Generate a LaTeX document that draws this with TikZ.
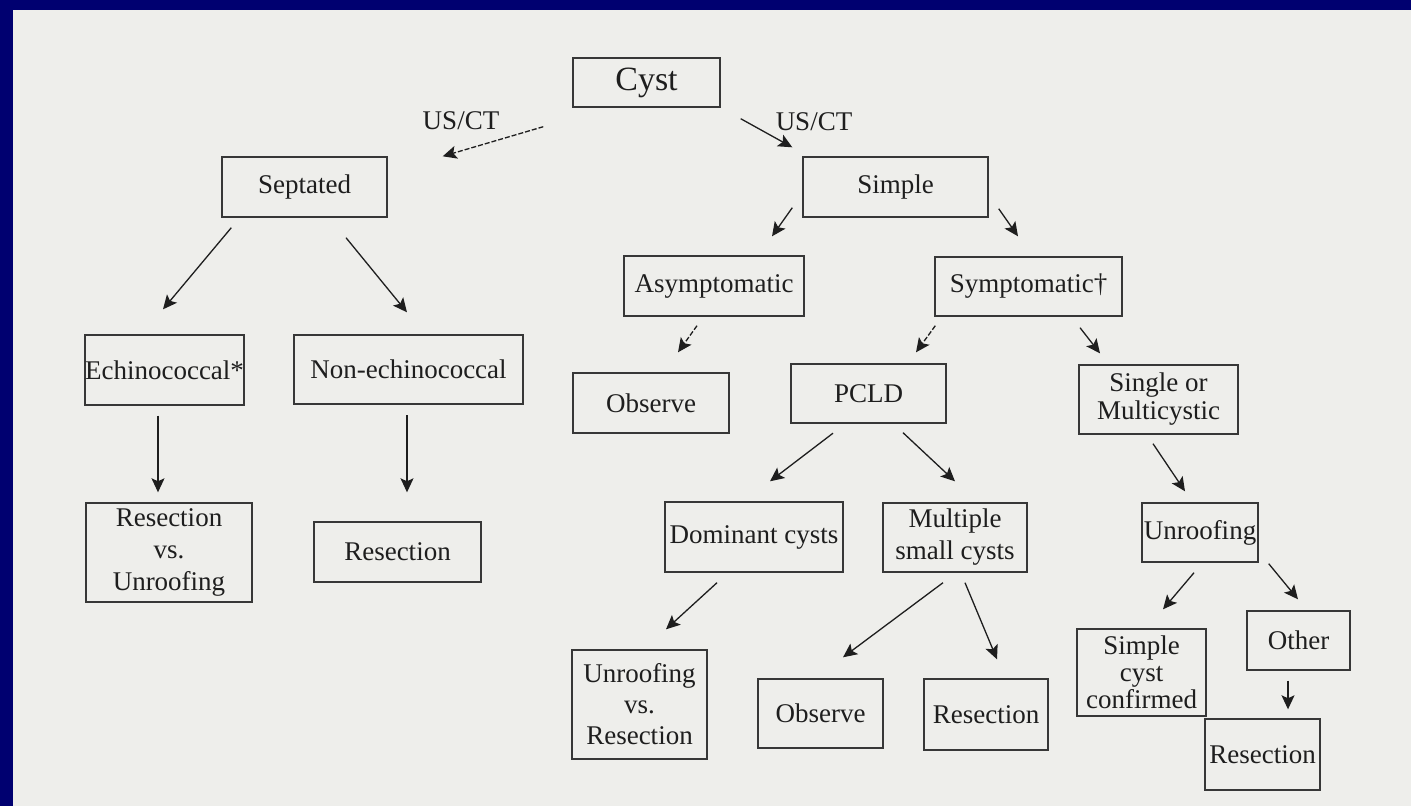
\documentclass[tikz,border=0pt]{standalone}
\usepackage{fontspec}
\setmainfont{Liberation Serif}
\usetikzlibrary{arrows.meta}
\definecolor{slideblue}{RGB}{0,0,112}
\definecolor{paper}{RGB}{238,238,235}
\definecolor{ink}{RGB}{30,30,30}
\definecolor{boxline}{RGB}{55,55,55}

\tikzset{
  box/.style={draw=boxline, line width=1.4pt, inner sep=0pt, align=center, text=ink, font=\fontsize{27}{32}\selectfont},
  arr/.style={draw=ink, line width=1.3pt, -{Stealth[length=14pt,width=13pt,inset=3pt]}},
  dasharr/.style={arr, dash pattern=on 5pt off 2pt},
  lbl/.style={text=ink, font=\fontsize{27}{32}\selectfont}
}

\begin{document}
\begin{tikzpicture}[x=1pt, y=-1pt]
  % slide frame and scanned page
  \fill[slideblue] (0,0) rectangle (1411,806);
  \fill[paper] (13,10) rectangle (1411,806);

  % top
  \node[box, minimum width=147pt, minimum height=49pt, font=\fontsize{34}{38}\selectfont] (cyst) at (646.5,82.5) {Cyst};
  \node[lbl] (ctleft) at (461,121) {US/CT};
  \node[lbl] (ctright) at (814,122) {US/CT};

  % septated branch
  \node[box, minimum width=165pt, minimum height=60pt] (septated) at (304.5,187) {Septated};
  \node[box, minimum width=157pt, minimum height=70pt] (echino) at (164.5,370) {Echinococcal*};
  \node[box, minimum width=229pt, minimum height=69pt] (nonecho) at (408.5,369.5) {Non-echinococcal};
  \node[box, minimum width=166pt, minimum height=99pt] (resunroof) at (169,552.5) {Resection\\vs.\\Unroofing};
  \node[box, minimum width=167pt, minimum height=60pt] (resleft) at (397.5,552) {Resection};

  % simple branch
  \node[box, minimum width=185pt, minimum height=60pt] (simple) at (895.5,187) {Simple};
  \node[box, minimum width=180pt, minimum height=60pt] (asym) at (714,286) {Asymptomatic};
  \node[box, minimum width=187pt, minimum height=59pt] (symp) at (1028.5,286.5) {Symptomatic†};
  \node[box, minimum width=156pt, minimum height=60pt] (observeA) at (651,403) {Observe};
  \node[box, minimum width=155pt, minimum height=59pt] (pcld) at (868.5,393.5) {PCLD};
  \node[box, minimum width=159pt, minimum height=69pt, font=\fontsize{27}{28}\selectfont] (single) at (1158.5,399.5) {Single or\\Multicystic};

  % PCLD
  \node[box, minimum width=178pt, minimum height=70pt] (dominant) at (754,537) {Dominant cysts};
  \node[box, minimum width=144pt, minimum height=69pt] (multiple) at (955,537.5) {Multiple\\small cysts};
  \node[box, minimum width=135pt, minimum height=109pt, font=\fontsize{27}{31}\selectfont] (unres) at (639.5,704.5) {Unroofing\\vs.\\Resection};
  \node[box, minimum width=125pt, minimum height=69pt] (observeB) at (820.5,713.5) {Observe};
  \node[box, minimum width=124pt, minimum height=71pt] (resmid) at (986,714.5) {Resection};

  % single or multicystic
  \node[box, minimum width=116pt, minimum height=59pt] (unroofing) at (1200,532.5) {Unroofing};
  \node[box, minimum width=129pt, minimum height=87pt, font=\fontsize{27}{27}\selectfont] (confirmed) at (1141.5,672.5) {Simple\\cyst\\confirmed};
  \node[box, minimum width=103pt, minimum height=59pt] (other) at (1298.5,640.5) {Other};
  \node[box, minimum width=115pt, minimum height=71pt] (resright) at (1262.5,754.5) {Resection};

  % arrows
  \draw[dasharr] ([shift={(-29,19)}]cyst.south west) -- ([shift={(55,0)}]septated.north east);
  \draw[arr] ([shift={(20,11)}]cyst.south east) -- ([shift={(-10,-9)}]simple.north west);
  \draw[arr] ([shift={(10,10)}]septated.south west) -- ([shift={(-1.5,-25)}]echino.north);
  \draw[arr] ([shift={(41.5,20)}]septated.south) -- ([shift={(-1.5,-22)}]nonecho.north);
  \draw[arr] ([shift={(-6.5,10)}]echino.south) -- ([shift={(-11,-10)}]resunroof.north);
  \draw[arr] ([shift={(-1.5,10.5)}]nonecho.south) -- ([shift={(9.5,-29)}]resleft.north);
  \draw[arr] ([shift={(-10,-10)}]simple.south west) -- ([shift={(58,-19)}]asym.north);
  \draw[arr] ([shift={(10,-9)}]simple.south east) -- ([shift={(-10.5,-20)}]symp.north);
  \draw[dasharr] ([shift={(-17,9)}]asym.south) -- ([shift={(27,-20)}]observeA.north);
  \draw[dasharr] ([shift={(1,9)}]symp.south west) -- ([shift={(47.5,-11)}]pcld.north);
  \draw[arr] ([shift={(51.5,11)}]symp.south) -- ([shift={(-58.5,-11)}]single.north);
  \draw[arr] ([shift={(-35.5,9.5)}]pcld.south) -- ([shift={(16,-20)}]dominant.north);
  \draw[arr] ([shift={(34.5,9)}]pcld.south) -- ([shift={(0,-21)}]multiple.north);
  \draw[arr] ([shift={(-37,10)}]dominant.south) -- ([shift={(26.5,-20)}]unres.north);
  \draw[arr] ([shift={(-12,10)}]multiple.south) -- ([shift={(22.5,-21)}]observeB.north);
  \draw[arr] ([shift={(10,10)}]multiple.south) -- ([shift={(11,-19)}]resmid.north);
  \draw[arr] ([shift={(-5.5,9)}]single.south) -- ([shift={(-15,-11)}]unroofing.north);
  \draw[arr] ([shift={(-6,10)}]unroofing.south) -- ([shift={(21.5,-19)}]confirmed.north);
  \draw[arr] ([shift={(10,1)}]unroofing.south east) -- ([shift={(-0.5,-11)}]other.north);
  \draw[arr] ([shift={(-10.5,10)}]other.south) -- ([shift={(25.5,-9)}]resright.north);
\end{tikzpicture}
\end{document}
